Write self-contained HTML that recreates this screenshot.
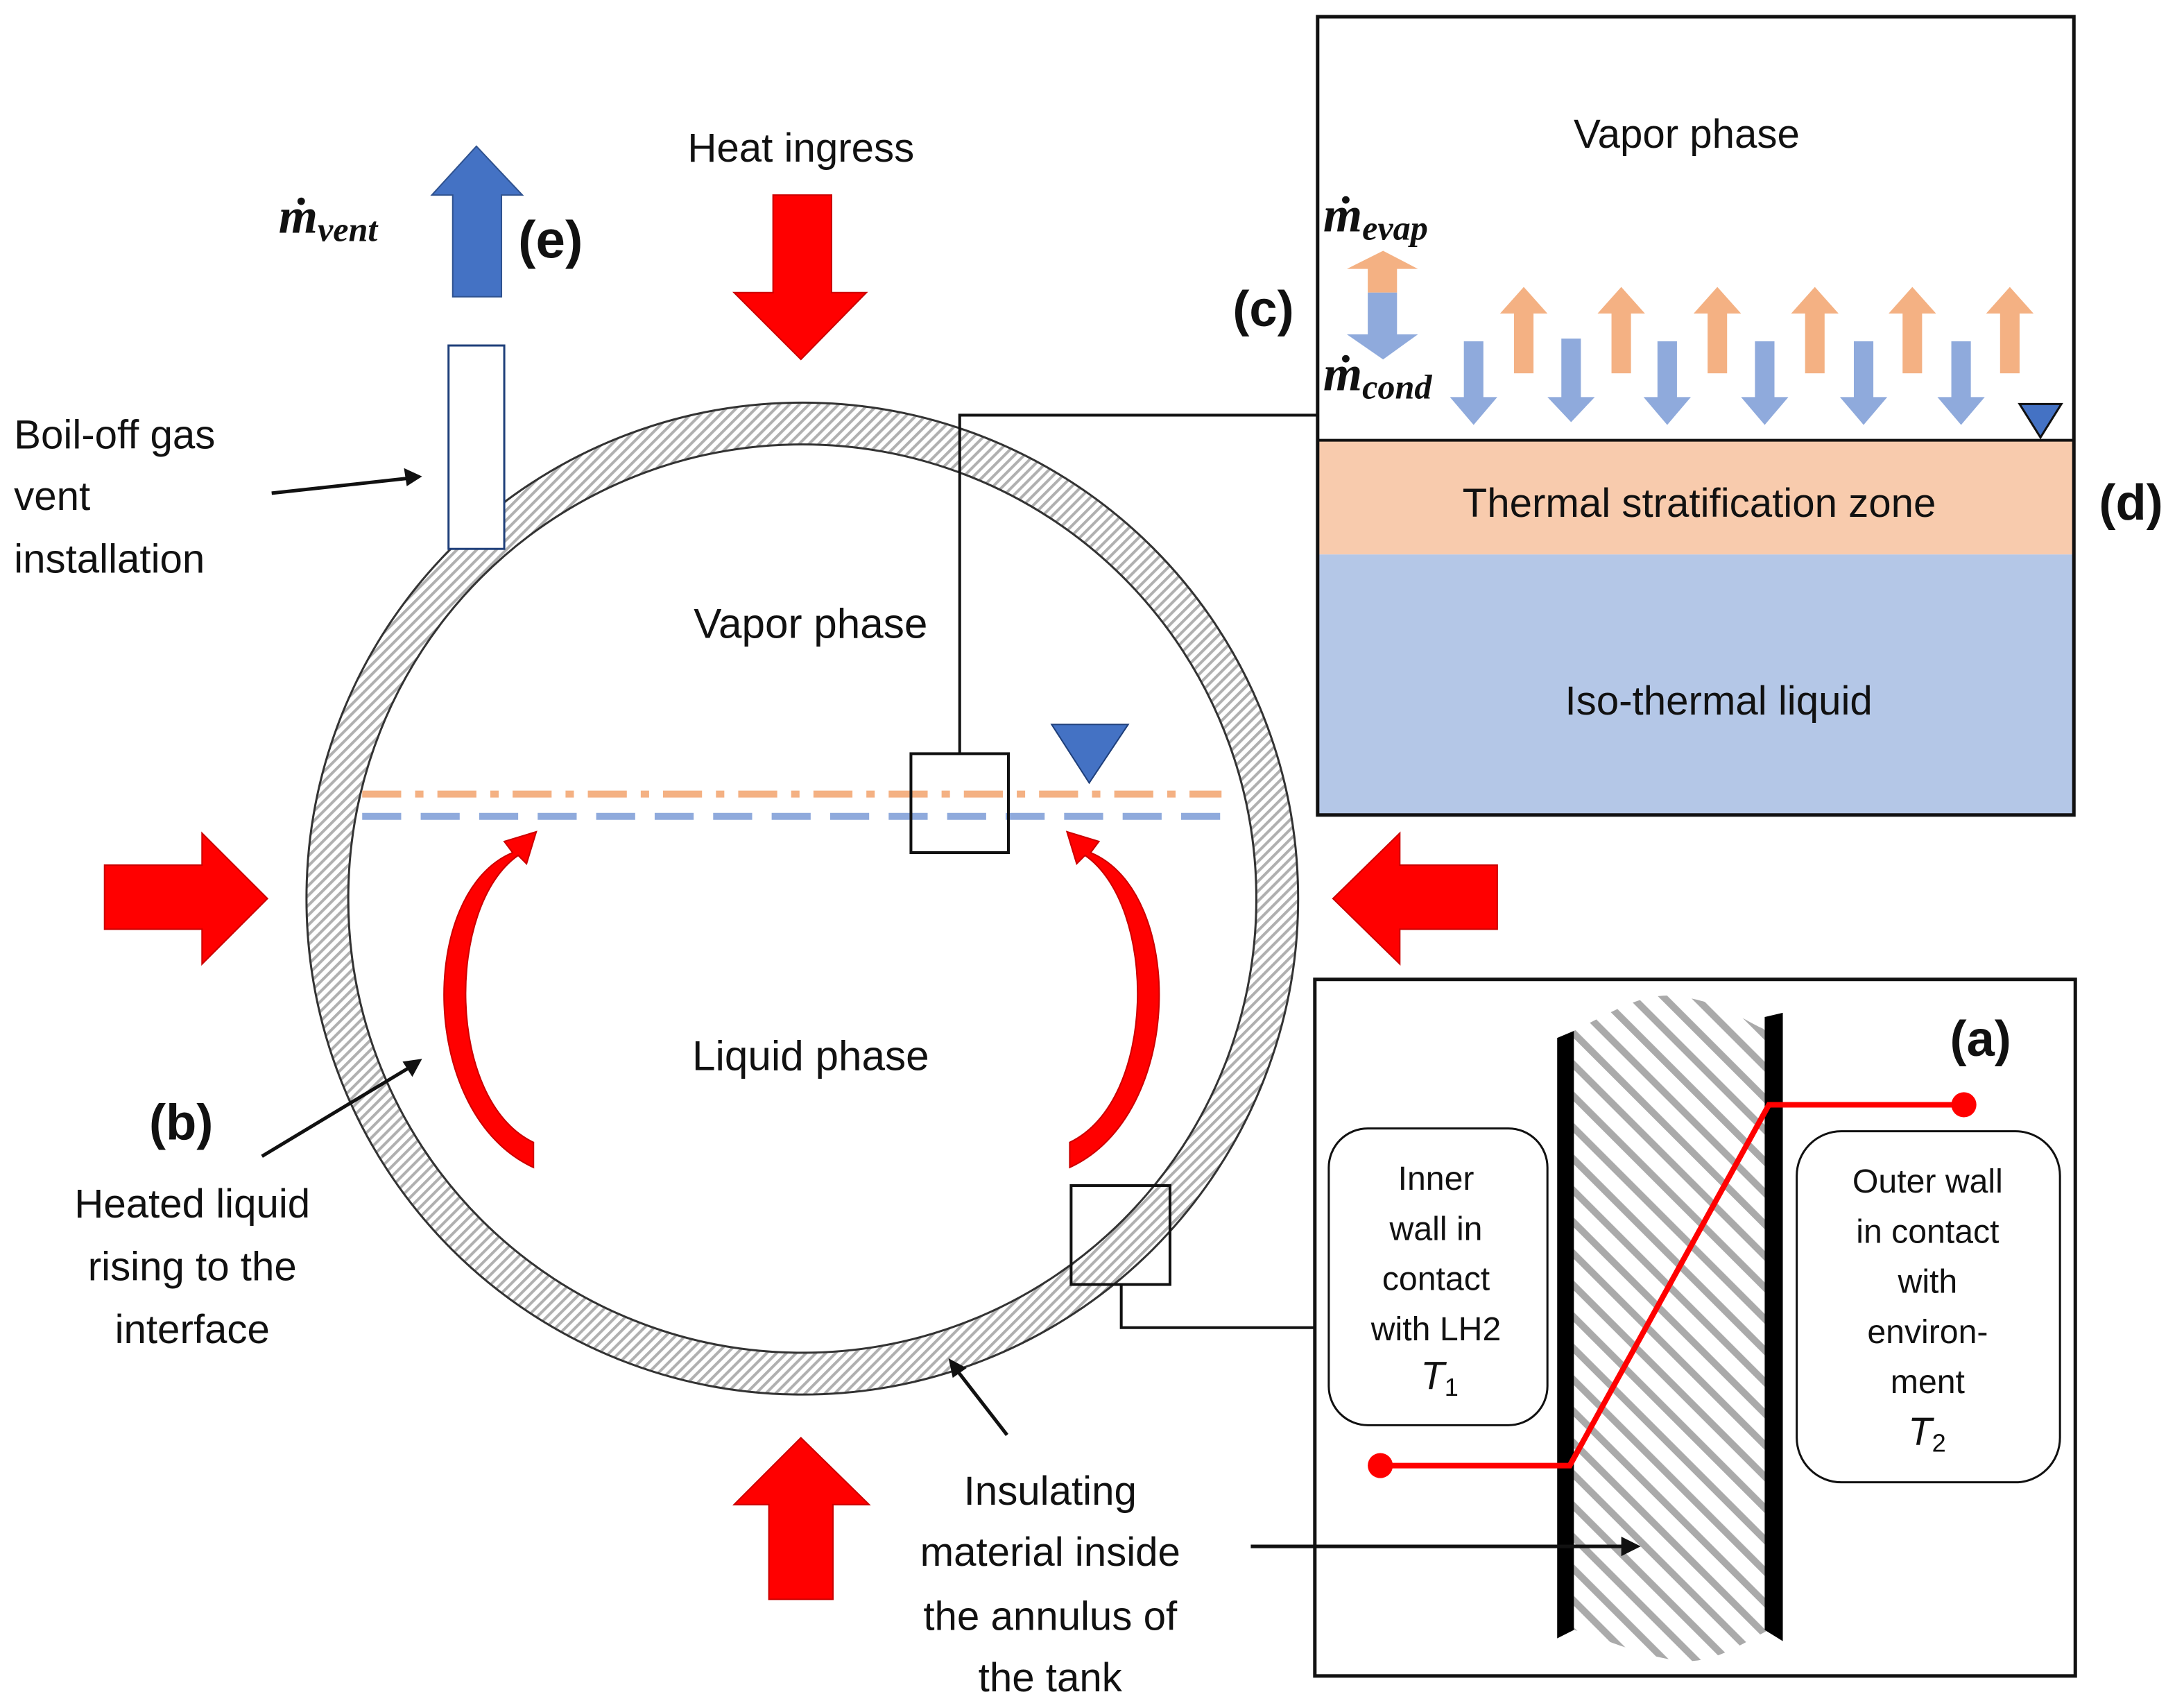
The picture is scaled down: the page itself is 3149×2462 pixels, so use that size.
<!DOCTYPE html>
<html><head><meta charset="utf-8"><style>
html,body{margin:0;padding:0;background:#fff}
svg{display:block}
text{font-family:"Liberation Sans",sans-serif;fill:#111}
.m{font-family:"Liberation Serif",serif;font-style:italic;font-weight:bold}
</style></head><body>
<svg width="3149" height="2462" viewBox="0 0 1568 1226" xmlns="http://www.w3.org/2000/svg">
<defs>
<pattern id="h" width="5" height="5" patternUnits="userSpaceOnUse" patternTransform="rotate(45)">
<rect width="5" height="5" fill="#fff"/><rect width="2" height="5" fill="#b0b0b0"/></pattern>
<pattern id="h2" width="16" height="16" patternUnits="userSpaceOnUse" patternTransform="rotate(-45)">
<rect width="16" height="16" fill="#fff"/><rect width="5" height="16" fill="#aaa"/></pattern>
</defs>
<!-- tank -->
<circle cx="576" cy="645" r="341" fill="none" stroke="url(#h)" stroke-width="30"/>
<circle cx="576" cy="645" r="356" fill="none" stroke="#333" stroke-width="1.5"/>
<circle cx="576" cy="645" r="326" fill="#fff" stroke="#333" stroke-width="1.5"/>
<!-- vent pipe -->
<rect x="322" y="248" width="40" height="146" fill="#fff" stroke="#1f3f7a" stroke-width="1.5"/>
<polygon points="325,213 360,213 360,140 375,140 342,105 310,140 325,140" fill="#4472c4" stroke="#2f528f" stroke-width="1"/>
<!-- red arrows -->
<polygon points="555,140 597,140 597,210 622,210 575,258 527,210 555,210" fill="#f00" stroke="#c00"/>
<polygon points="552,1148 598,1148 598,1080 624,1080 575,1032 527,1080 552,1080" fill="#f00" stroke="#c00"/>
<polygon points="75,621 145,621 145,598 192,645 145,692 145,667 75,667" fill="#f00" stroke="#c00"/>
<polygon points="1075,621 1005,621 1005,598 957,645 1005,692 1005,667 1075,667" fill="#f00" stroke="#c00"/>
<!-- interface lines -->
<line x1="260" y1="570" x2="877" y2="570" stroke="#f4b183" stroke-width="5" stroke-dasharray="28,10,6,10"/>
<line x1="260" y1="586" x2="877" y2="586" stroke="#8faadc" stroke-width="5" stroke-dasharray="28,14"/>
<polygon points="755,520 810,520 782,562" fill="#4472c4" stroke="#1f3f7a"/>
<!-- boxes -->
<rect x="654" y="541" width="70" height="71" fill="none" stroke="#111" stroke-width="2"/>
<polyline points="689,541 689,298 946,298" fill="none" stroke="#111" stroke-width="2"/>
<rect x="769" y="851" width="71" height="71" fill="none" stroke="#111" stroke-width="2"/>
<polyline points="805,922 805,953 944,953" fill="none" stroke="#111" stroke-width="2"/>
<!-- curved red arrows -->
<path d="M383,838 C300,800 300,640 368,612 L362,604 L385,597 L378,620 L372,614 C320,650 320,790 383,820 Z" fill="#f00" stroke="#c00"/>
<path d="M768,838 C851,800 851,640 783,612 L789,604 L766,597 L773,620 L779,614 C831,650 831,790 768,820 Z" fill="#f00" stroke="#c00"/>
<!-- labels main -->
<text x="575" y="116" font-size="29" text-anchor="middle">Heat ingress</text>
<text x="582" y="458" font-size="30" text-anchor="middle">Vapor phase</text>
<text x="582" y="768" font-size="30" text-anchor="middle">Liquid phase</text>
<text x="10" y="322" font-size="29">Boil-off gas</text>
<text x="10" y="366" font-size="29">vent</text>
<text x="10" y="411" font-size="29">installation</text>
<line x1="195" y1="354" x2="296" y2="343" stroke="#111" stroke-width="2.5"/>
<polygon points="303,342 290,336 292,349" fill="#111"/>
<text x="130" y="818" font-size="36" font-weight="bold" text-anchor="middle">(b)</text>
<text x="138" y="874" font-size="29" text-anchor="middle">Heated liquid</text>
<text x="138" y="919" font-size="29" text-anchor="middle">rising to the</text>
<text x="138" y="964" font-size="29" text-anchor="middle">interface</text>
<line x1="188" y1="830" x2="296" y2="765" stroke="#111" stroke-width="2.5"/>
<polygon points="303,760 289,762 296,773" fill="#111"/>
<text x="754" y="1080" font-size="29" text-anchor="middle">Insulating</text>
<text x="754" y="1124" font-size="29" text-anchor="middle">material inside</text>
<text x="754" y="1170" font-size="29" text-anchor="middle">the annulus of</text>
<text x="754" y="1214" font-size="29" text-anchor="middle">the tank</text>
<line x1="723" y1="1030" x2="685" y2="981" stroke="#111" stroke-width="2.5"/>
<polygon points="681,975 684,989 694,982" fill="#111"/>
<text x="200" y="167" font-size="36" class="m">ṁ<tspan font-size="25" dy="6">vent</tspan></text>
<text x="372" y="185" font-size="38" font-weight="bold">(e)</text>
<!-- top right panel -->
<rect x="946" y="316" width="543" height="82" fill="#f8cbad"/>
<rect x="946" y="398" width="543" height="187" fill="#b4c7e7"/>
<line x1="946" y1="316" x2="1489" y2="316" stroke="#111" stroke-width="2"/>
<rect x="946" y="12" width="543" height="573" fill="none" stroke="#111" stroke-width="2.5"/>
<text x="1211" y="106" font-size="29" text-anchor="middle">Vapor phase</text>
<text x="1220" y="371" font-size="29" text-anchor="middle">Thermal stratification zone</text>
<text x="1234" y="513" font-size="29" text-anchor="middle">Iso-thermal liquid</text>
<text x="1530" y="373" font-size="36" font-weight="bold" text-anchor="middle">(d)</text>
<text x="907" y="234" font-size="36" font-weight="bold" text-anchor="middle">(c)</text>
<text x="950" y="166" font-size="36" class="m">ṁ<tspan font-size="25" dy="6">evap</tspan></text>
<text x="950" y="280" font-size="36" class="m">ṁ<tspan font-size="25" dy="6">cond</tspan></text>
<polygon points="982,210 982,193 967,193 993,180 1018,193 1003,193 1003,210" fill="#f4b183"/>
<polygon points="982,210 1003,210 1003,240 1018,240 993,258 967,240 982,240" fill="#8faadc"/>
<g fill="#f4b183">
<polygon points="1087,268 1101,268 1101,225 1111,225 1094,206 1077,225 1087,225"/>
<polygon points="1157,268 1171,268 1171,225 1181,225 1164,206 1147,225 1157,225"/>
<polygon points="1226,268 1240,268 1240,225 1250,225 1233,206 1216,225 1226,225"/>
<polygon points="1296,268 1310,268 1310,225 1320,225 1303,206 1286,225 1296,225"/>
<polygon points="1366,268 1380,268 1380,225 1390,225 1373,206 1356,225 1366,225"/>
<polygon points="1436,268 1450,268 1450,225 1460,225 1443,206 1426,225 1436,225"/>
</g>
<g fill="#8faadc">
<polygon points="1051,245 1065,245 1065,285 1075,285 1058,305 1041,285 1051,285"/>
<polygon points="1121,243 1135,243 1135,285 1145,285 1128,303 1111,285 1121,285"/>
<polygon points="1190,245 1204,245 1204,285 1214,285 1197,305 1180,285 1190,285"/>
<polygon points="1260,245 1274,245 1274,285 1284,285 1267,305 1250,285 1260,285"/>
<polygon points="1331,245 1345,245 1345,285 1355,285 1338,305 1321,285 1331,285"/>
<polygon points="1401,245 1415,245 1415,285 1425,285 1408,305 1391,285 1401,285"/>
</g>
<polygon points="1450,290 1480,290 1465,314" fill="#4472c4" stroke="#111" stroke-width="1.5"/>
<!-- bottom right panel -->
<rect x="944" y="703" width="546" height="500" fill="#fff" stroke="#111" stroke-width="2.5"/>
<path d="M1130,740 C1160,725 1180,712 1205,715 C1240,720 1255,735 1270,740 L1270,1170 C1250,1180 1230,1195 1205,1192 C1175,1188 1150,1175 1130,1170 Z" fill="url(#h2)"/>
<path d="M1118,745 L1130,740 L1130,1170 L1118,1176 Z" fill="#000"/>
<path d="M1267,730 L1280,727 L1280,1178 L1267,1170 Z" fill="#000"/>
<rect x="954" y="810" width="157" height="213" rx="28" fill="#fff" stroke="#111" stroke-width="1.5"/>
<rect x="1290" y="812" width="189" height="252" rx="32" fill="#fff" stroke="#111" stroke-width="1.5"/>
<text x="1031" y="854" font-size="24" text-anchor="middle">Inner</text>
<text x="1031" y="890" font-size="24" text-anchor="middle">wall in</text>
<text x="1031" y="926" font-size="24" text-anchor="middle">contact</text>
<text x="1031" y="962" font-size="24" text-anchor="middle">with LH2</text>
<text x="1020" y="997" font-size="28" font-family="Liberation Serif" font-style="italic">T<tspan font-size="18" dy="5" font-style="normal">1</tspan></text>
<text x="1384" y="856" font-size="24" text-anchor="middle">Outer wall</text>
<text x="1384" y="892" font-size="24" text-anchor="middle">in contact</text>
<text x="1384" y="928" font-size="24" text-anchor="middle">with</text>
<text x="1384" y="964" font-size="24" text-anchor="middle">environ-</text>
<text x="1384" y="1000" font-size="24" text-anchor="middle">ment</text>
<text x="1370" y="1037" font-size="28" font-family="Liberation Serif" font-style="italic">T<tspan font-size="18" dy="5" font-style="normal">2</tspan></text>
<polyline points="991,1052 1127,1052 1270,793 1410,793" fill="none" stroke="#f00" stroke-width="4"/>
<circle cx="991" cy="1052" r="9" fill="#f00"/>
<circle cx="1410" cy="793" r="9" fill="#f00"/>
<text x="1422" y="758" font-size="36" font-weight="bold" text-anchor="middle">(a)</text>
<line x1="898" y1="1110" x2="1168" y2="1110" stroke="#111" stroke-width="2.5"/>
<polygon points="1178,1110 1164,1103 1164,1117" fill="#111"/>
</svg>
</body></html>
